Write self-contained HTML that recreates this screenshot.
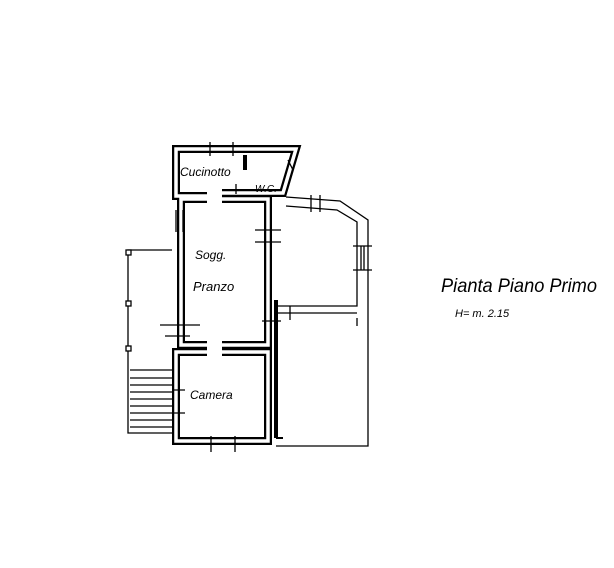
<!DOCTYPE html>
<html><head><style>html,body{margin:0;padding:0;background:#fff}svg{display:block}</style></head>
<body>
<svg width="614" height="568" viewBox="0 0 614 568" xmlns="http://www.w3.org/2000/svg" font-family="Liberation Sans, sans-serif">
<g fill="none" stroke="#000" stroke-width="8">
<path d="M207,196 L176,196 L176,149 L296,149 L283,193 L222,193"/>
<path d="M222,199 L268,199 L268,345 L222,345"/>
<path d="M207,199 L181,199 L181,345 L207,345"/>
<path d="M207,352 L176,352 L176,441 L268,441 L268,352 L222,352"/>
</g>
<g fill="none" stroke="#fff" stroke-width="3.5">
<path d="M207,196 L176,196 L176,149 L296,149 L283,193 L222,193"/>
<path d="M222,199 L268,199 L268,345 L222,345"/>
<path d="M207,199 L181,199 L181,345 L207,345"/>
<path d="M207,352 L176,352 L176,441 L268,441 L268,352 L222,352"/>
</g>
<path d="M276,300 L276,438" stroke="#000" stroke-width="4" fill="none"/>
<path d="M276,438 L283,438" stroke="#000" stroke-width="2"/>
<g fill="none" stroke="#000" stroke-width="1.3">
<path d="M286,197 L340,201 L368,220 L368,446 L276,446"/>
<path d="M286,206 L337,210 L357,222 L357,306 L276,306"/>
<path d="M357,318 L357,326"/>
<path d="M276,313 L357,313"/>
<path d="M311,195 L311,212 M320,195 L320,212"/>
<path d="M353,246 L372,246 M353,270 L372,270 M361,246 L361,270 M364,246 L364,270"/>
<path d="M255,230 L281,230 M255,242 L281,242"/>
<path d="M262,321 L281,321"/>
<path d="M290,306 L290,320"/>
<path d="M172,250 L128,250 L128,433 L172,433"/>
<path d="M130,370 L172,370 M130,378 L172,378 M130,385 L172,385 M130,392 L172,392 M130,399 L172,399 M130,406 L172,406 M130,413 L172,413 M130,420 L172,420 M130,427 L172,427"/>
<path d="M160,325 L200,325 M165,336 L190,336"/>
<path d="M176,210 L176,232 M183,210 L183,232"/>
<path d="M172,390 L185,390 M172,413 L185,413"/>
<path d="M210,142 L210,156 M233,142 L233,156 M211,436 L211,452 M235,436 L235,452"/>
<path d="M245,155 L245,170 M236,184 L236,194 M288,160 L293,170"/>
</g>
<rect x="243" y="155" width="4" height="15" fill="#000"/>
<rect x="126" y="250" width="5" height="5" fill="#fff" stroke="#000" stroke-width="1.3"/>
<rect x="126" y="301" width="5" height="5" fill="#fff" stroke="#000" stroke-width="1.3"/>
<rect x="126" y="346" width="5" height="5" fill="#fff" stroke="#000" stroke-width="1.3"/>
<g fill="#000" font-style="italic">
<text x="180" y="176" font-size="12">Cucinotto</text>
<text x="255" y="192" font-size="10">W.C.</text>
<text x="195" y="259" font-size="12">Sogg.</text>
<text x="193" y="291" font-size="13">Pranzo</text>
<text x="190" y="399" font-size="12">Camera</text>
<text x="441" y="292" font-size="19" textLength="156" lengthAdjust="spacingAndGlyphs">Pianta Piano Primo</text>
<text x="455" y="317" font-size="11">H= m. 2.15</text>
</g>
</svg>
</body></html>
